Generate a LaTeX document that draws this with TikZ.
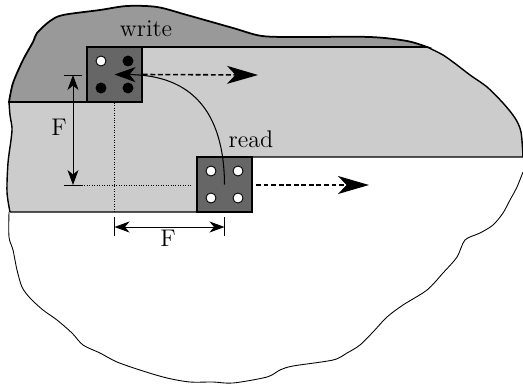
\documentclass[tikz,border=0pt]{standalone}
\usepackage{amsmath}
\usetikzlibrary{arrows.meta}
\definecolor{waferdark}{gray}{0.6}
\definecolor{waferlight}{gray}{0.8}
\definecolor{padgray}{gray}{0.4}
\tikzset{
  pad/.style={draw,line width=0.9pt,fill=padgray,minimum size=1.1cm,inner sep=0pt},
  hole/.style={circle,draw,line width=0.5pt,minimum size=0.2cm,inner sep=0pt},
  label/.style={inner sep=0pt,font=\fontsize{13.7}{16}\selectfont},
  scanarrow/.style={line width=0.9pt,dash pattern=on 2.8pt off 1.5pt,-{Stealth[length=0.62cm,width=0.36cm,inset=0.17cm]}},
  dimarrow/.style={line width=0.5pt,{Stealth[length=0.3cm,width=0.22cm,inset=0.09cm]}-{Stealth[length=0.3cm,width=0.22cm,inset=0.09cm]}},
}
\begin{document}
\begin{tikzpicture}[x=0.02cm,y=-0.02cm]
\useasboundingbox (0,0) rectangle (523,385);
% exposed area
\draw[fill=waferlight,line width=0.8pt] plot[smooth,tension=0.5] coordinates {(10,212) (7,192) (8,163) (11,140) (12,128) (10,115) (9,102)}
  -- (87,102) -- (87,47) -- (427,47)
  plot[smooth,tension=0.5] coordinates {(427,47) (443,55) (457,65) (470,75) (487,87) (503,103) (515,118) (521,132) (523,157)}
  -- (197,157) -- (197,212) -- (10,212);
% written part
\draw[fill=waferdark,line width=1pt] plot[smooth,tension=0.5] coordinates {(9,102) (13,83) (23,60) (33,42) (37,33) (50,21) (63,15) (100,10) (127,6) (157,7) (187,15) (233,28) (262,36) (300,37) (370,37) (407,41) (427,47)}
  -- (87,47) -- (87,102) -- cycle;
% lower edge
\draw[line width=0.5pt] plot[smooth,tension=0.5] coordinates {(9,212) (9,237) (13,250) (17,270) (22,287) (30,298) (43,310) (57,320) (72,333) (83,345) (100,353) (117,362) (143,371) (167,378) (190,382) (213,382) (233,383) (267,377) (280,370) (293,366) (333,360) (347,353) (360,345) (373,332) (387,317) (403,305) (427,290) (443,273) (457,257) (465,240) (480,233) (493,225) (503,213) (510,200) (517,187) (523,172)};
% sensing lines
\node[pad] (writepad) at (114.5,74.5) {};
\node[pad] (readpad) at (224.5,184.5) {};
\foreach \x/\y/\c/\n in {-13.5/-13.5/white/a,13.5/-13.5/black/b,-13.5/13.5/black/c,13.5/13.5/black/d}
  \node[hole,fill=\c] (write\n) at (114.5+\x,74.5+\y) {};
\foreach \x/\y/\n in {-13.5/-13.5/a,13.5/-13.5/b,-13.5/13.5/c,13.5/13.5/d}
  \node[hole,fill=white] (read\n) at (224.5+\x,184.5+\y) {};
\node[label,anchor=base] (writelabel) at (146,37) {write};
\node[label,anchor=base] (readlabel) at (251,147) {read};
\coordinate (writetip) at (258,75);
\coordinate (readtip) at (369,185);
\coordinate (readstart) at (256,185);
\draw[scanarrow] (writepad.east) -- (writetip);
\draw[scanarrow] (readstart) -- (readtip);
\draw[line width=0.6pt,-{Stealth[length=0.42cm,width=0.3cm,inset=0.12cm]}] (readpad.center) .. controls (224,110) and (190,75) .. (writepad.center);
% dimensions
\coordinate (vtop) at (73,75);
\coordinate (vbot) at (73,185);
\coordinate (hleft) at (114.5,227);
\coordinate (hright) at (224.5,227);
\draw[line width=0.5pt] (64,75) -- (82,75);
\draw[line width=0.5pt] (64,185) -- (82,185);
\draw[line width=0.5pt] (114.5,217) -- (114.5,236);
\draw[line width=0.5pt] (224.5,217) -- (224.5,236);
\draw[dimarrow] (vtop) -- (vbot);
\draw[dimarrow] (hleft) -- (hright);
\node[label] (vlabel) at (59,127) {F};
\node[label] (hlabel) at (168,238) {F};
\draw[densely dotted,line width=0.4pt] (writepad.south) -- (114.5,212);
\draw[densely dotted,line width=0.4pt] (82,185) -- (192,185);
\end{tikzpicture}
\end{document}
